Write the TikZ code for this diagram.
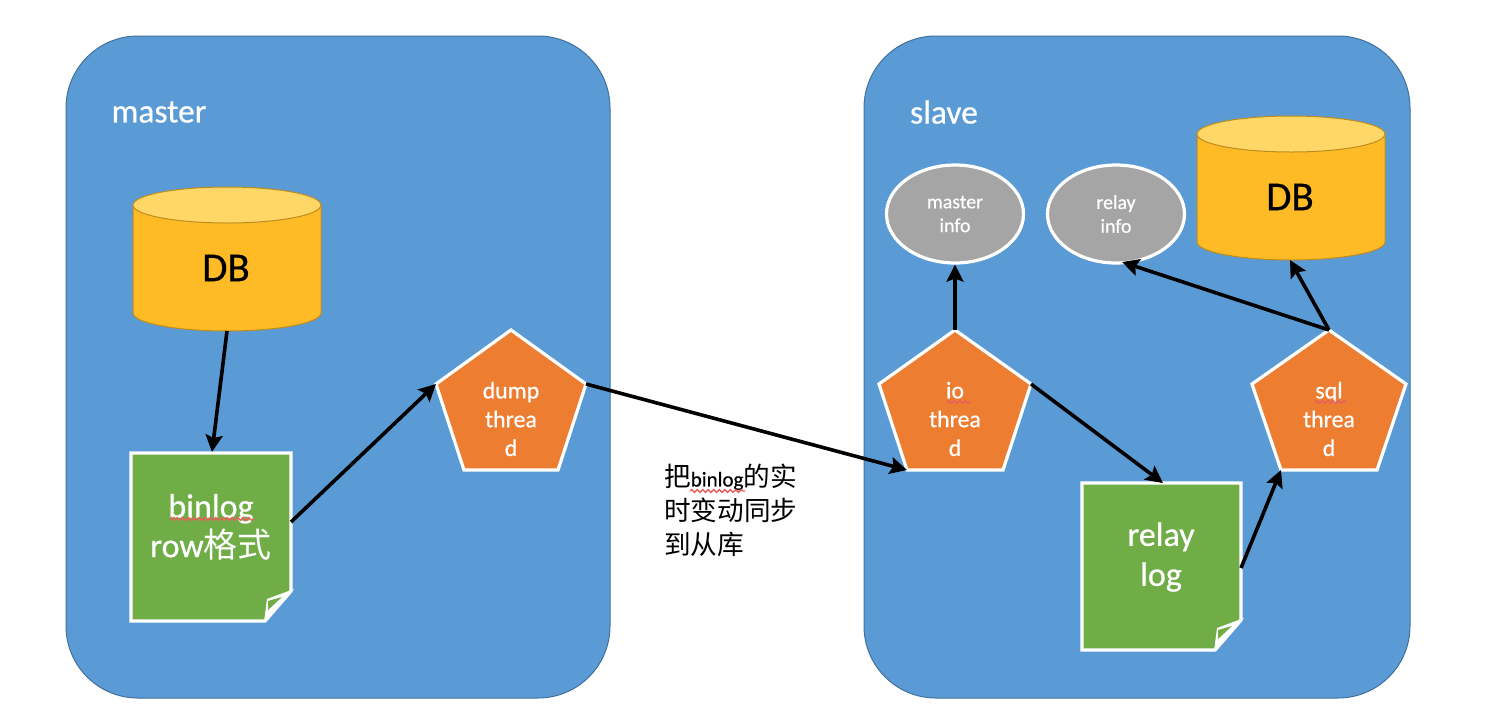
\documentclass[tikz,border=0pt]{standalone}
\usepackage{fontspec}
\setmainfont{Carlito}[RawFeature={embolden=0.6}]
\newfontfamily\cjk{Noto Sans CJK SC}
\newfontfamily\latincap{Carlito}[RawFeature={embolden=0.6}]
\usetikzlibrary{arrows.meta,shapes.geometric,decorations.pathmorphing}
\definecolor{panelblue}{HTML}{5B9BD5}
\definecolor{paneledge}{HTML}{41719C}
\definecolor{threadorange}{HTML}{ED7D31}
\definecolor{notegreen}{HTML}{70AD47}
\definecolor{dbbody}{HTML}{FFBB26}
\definecolor{dbtop}{HTML}{FFD766}
\definecolor{dbedge}{HTML}{BC8C1E}
\definecolor{infogray}{HTML}{A5A5A5}
\definecolor{wavered}{HTML}{E8605A}
\newcommand{\fs}[1]{\fontsize{#1}{#1}\selectfont}
\tikzset{
  x=1pt,y=-1pt,
  panel/.style={rectangle,draw=paneledge,line width=1pt,fill=panelblue,rounded corners=72pt,inner sep=0pt,minimum width=#1,minimum height=662pt},
  paneltext/.style={text=white,font=\fs{33.5},inner sep=0pt},
  notetext/.style={text=white,font=\fs{34},align=center,inner sep=0pt},
  threadtext/.style={text=white,font=\fs{23.8},align=center,inner sep=0pt},
  info/.style={ellipse,draw=white,line width=3.2pt,fill=infogray,inner sep=0pt,minimum width=137pt,minimum height=98pt,text=white,font=\fs{19.8},align=center},
  pent/.style={draw=white,line width=3.2pt,fill=threadorange,line join=miter},
  link/.style={draw=black,line width=3.6pt,-{Stealth[length=17pt,width=17pt,inset=3pt]},shorten >=0pt},
  wave/.style={draw=wavered,line width=1.4pt,decorate,decoration={snake,amplitude=1.4pt,segment length=5.5pt}},
}
% #1 name, #2 centre x, #3 half base, #4 half width
\newcommand{\threadshape}[4]{%
  \coordinate (#1-top) at (#2,330);
  \coordinate (#1-r) at ({#2+#4},384);
  \coordinate (#1-br) at ({#2+#3},470);
  \coordinate (#1-bl) at ({#2-#3},470);
  \coordinate (#1-l) at ({#2-#4},384);
  \path[pent] (#1-top)--(#1-r)--(#1-br)--(#1-bl)--(#1-l)--cycle;
}
% #1 name, #2 left, #3 top, #4 right, #5 bottom
\newcommand{\dbshape}[5]{%
  \path[fill=dbbody,draw=dbedge,line width=1pt] (#2,{#3+18}) -- (#2,{#5-18}) arc[start angle=180,end angle=360,x radius={(#4-#2)/2},y radius=-18] -- (#4,{#3+18}) -- cycle;
  \path[fill=dbtop,draw=dbedge,line width=1pt] ({(#2+#4)/2},{#3+18}) ellipse[x radius={(#4-#2)/2},y radius=18];
  \node[text=black,font=\fs{41},inner sep=0pt] (#1) at ({(#2+#4)/2-1},{(#3+#5)/2+9}) {DB};
  \coordinate (#1-top) at ({(#2+#4)/2},#3);
}
% #1 name, #2 left, #3 top, #4 right, #5 bottom
\newcommand{\noteshape}[5]{%
  \path[fill=notegreen,draw=white,line width=3.4pt,line join=miter] (#2,#3) -- (#4,#3) -- (#4,{#5-30}) -- ({#4-26},#5) -- (#2,#5) -- cycle;
  \path[fill=white] ({#4+3},{#5-32}) -- ({#4-27},{#5+1}) -- ({#4-24},{#5-22}) -- cycle;
  \path[fill=notegreen] ({#4-23},{#5-11}) -- ({#4-23},{#5-20}) -- ({#4-9},{#5-24}) -- cycle;
  \coordinate (#1-n) at ({#2+81},#3);
  \coordinate (#1-e) at (#4,{#3+69});
}
\begin{document}
\begin{tikzpicture}
\useasboundingbox (0,0) rectangle (1494,716);
\fill[white] (0,0) rectangle (1494,716);
\node[panel=544pt] (master) at (338,367) {};
\node[panel=546pt] (slave) at (1137,367) {};
\node[paneltext] (mastertext) at (159,112) {master};
\node[paneltext] (slavetext) at (944,112) {slave};

\dbshape{dba}{133}{187}{321}{331}
\dbshape{dbb}{1197}{116}{1385}{260}
\coordinate (dba-s) at (227,331);
\coordinate (dbb-s) at (1290,260);

\noteshape{notea}{131}{453}{291}{621}
\node[notetext] (binlog) at (211,527) {binlog\\[4pt]row{\cjk 格式}};
\noteshape{noteb}{1082}{483}{1241}{650}
\coordinate (noteb-n) at (1163,483);
\coordinate (noteb-e) at (1241,568);
\node[notetext] (relaylog) at (1161,557) {relay\\[6pt]log};

\threadshape{dump}{511}{47}{75}
\threadshape{io}{955}{48}{76}
\threadshape{sql}{1329}{48}{77}
\node[threadtext] (dumptext) at (511,419) {dump\\[5pt]threa\\[5pt]d};
\node[threadtext] (iotext) at (955,419) {io\\[5pt]threa\\[5pt]d};
\node[threadtext] (sqltext) at (1329,419) {sql\\[5pt]threa\\[5pt]d};

\node[info] (minfo) at (955,214) {master\\[4pt]info};
\node[info] (rinfo) at (1116,214) {relay\\[4pt]info};

\draw[link] (dba-s) -- (212,452);
\draw[link] (notea-e) -- (dump-l);
\draw[link] (dump-r) -- (io-bl);
\draw[link] (io-top) -- (minfo.south);
\draw[link] (io-r) -- (noteb-n);
\draw[link] (noteb-e) -- (sql-bl);
\draw[link] (sql-top) -- (1122,262);
\draw[link] (sql-top) -- (dbb-s);

\node[anchor=west,inner sep=0pt,text=black,font=\fs{26.6}] (cap1) at (664,477) {\cjk 把{\latincap\fs{21}binlog}的实};
\node[anchor=west,inner sep=0pt,text=black,font=\fs{26.6}] (cap2) at (664,510) {\cjk 时变动同步};
\node[anchor=west,inner sep=0pt,text=black,font=\fs{26.6}] (cap3) at (664,544) {\cjk 到从库};

\path[wave] (170,519) -- (254,519);
\path[wave] (947,402) -- (970,402);
\path[wave] (1315,402) -- (1346,402);
\path[wave] (690,491) -- (745,491);
\end{tikzpicture}
\end{document}
